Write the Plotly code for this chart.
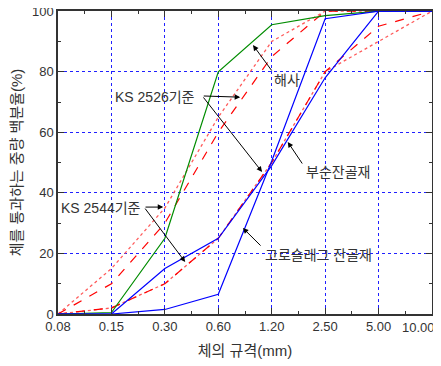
import plotly.graph_objects as go

sieves = ["0.08", "0.15", "0.30", "0.60", "1.20", "2.50", "5.00", "10.00"]
sea_sand = [0, 0.5, 25, 80, 95.5, 98.5, 100, 100]
crushed = [0, 0, 15, 25, 49, 78, 100, 100]
slag = [0, 0, 1.5, 6.5, 50.5, 97.5, 100, 100]
ks2526_upper = [0, 10, 30, 60, 85, 100, 100, 100]
ks2526_lower = [0, 2, 10, 25, 50, 80, 95, 100]
ks2544_upper = [0, 15, 35, 65, 90, 100, 100, 100]
ks2544_lower = [0, 2, 10, 25, 50, 80, 90, 100]
y_ticks = [0, 20, 40, 60, 80, 100]

xpos = list(range(len(sieves)))

fig = go.Figure()

def add(vals, color, dash, width=1.2):
    fig.add_trace(go.Scatter(x=xpos, y=vals, mode="lines",
                             line=dict(color=color, dash=dash, width=width),
                             showlegend=False, hoverinfo="skip",
                             cliponaxis=False))

add(ks2544_upper, "#ff5a5a", "dot", 1.3)
add(ks2544_lower, "#ff5a5a", "dot", 1.3)
add(ks2526_upper, "#ff0000", "dash", 1.2)
add(ks2526_lower, "#ff0000", "dash", 1.2)
add(sea_sand, "#008c00", "solid", 1.2)
add(crushed, "#0000ff", "solid", 1.2)
add(slag, "#0000ff", "solid", 1.2)

font_main = "Liberation Sans, Noto Sans CJK KR, sans-serif"
txtfont = dict(family=font_main, size=14, color="#333333")
tickfont = dict(family=font_main, size=13, color="#333333")

texts = [
    ("해사", 4.29, 77.2),
    ("KS 2526기준", 1.82, 71.6),
    ("부순잔골재", 5.24, 46.9),
    ("KS 2544기준", 0.80, 35.0),
    ("고로슬래그 잔골재", 4.88, 19.5),
]
for t, x, y in texts:
    fig.add_annotation(x=x, y=y, text=t, showarrow=False, font=txtfont,
                       xref="x", yref="y")

arrows = [
    ((4.02, 79.9), (3.65, 88.8)),
    ((2.70, 72.0), (3.41, 71.6)),
    ((2.70, 72.0), (3.82, 46.9)),
    ((4.59, 49.2), (4.30, 56.8)),
    ((1.61, 35.3), (1.97, 35.3)),
    ((1.61, 35.3), (2.38, 17.2)),
    ((3.82, 22.1), (3.46, 28.4)),
]
for (tx, ty), (hx, hy) in arrows:
    fig.add_annotation(x=hx, y=hy, ax=tx, ay=ty, xref="x", yref="y",
                       axref="x", ayref="y", text="", showarrow=True,
                       arrowhead=2, arrowsize=1.1, arrowwidth=1,
                       arrowcolor="#000000")

# last tick label drawn right-aligned so it stays inside the window
ticktext = sieves[:-1] + [""]
fig.add_annotation(x=xpos[-1], y=0, xref="x", yref="y", text=sieves[-1],
                   showarrow=False, xanchor="right", yanchor="top",
                   xshift=5, yshift=-4, font=tickfont)

axis_common = dict(showline=True, linecolor="#333333", linewidth=1.5,
                   mirror="ticks", ticks="inside", ticklen=6,
                   tickcolor="#333333", tickwidth=1.2,
                   showgrid=True, gridcolor="#2020ff", griddash="dot",
                   gridwidth=1, zeroline=False, automargin=False,
                   ticklabeloverflow="allow",
                   tickfont=tickfont)

fig.update_xaxes(range=[-0.0005, len(sieves) - 1 + 0.0005], tickmode="array",
                 tickvals=xpos, ticktext=ticktext,
                 minor=dict(ticks="inside", ticklen=3, tickcolor="#333333",
                            dtick=0.5, tick0=0, showgrid=False),
                 title=dict(text="체의 규격(mm)",
                            font=dict(family=font_main, size=15, color="#333333"),
                            standoff=12),
                 **axis_common)
fig.update_yaxes(range=[0, 100.05], tickmode="array", tickvals=y_ticks,
                 minor=dict(ticks="inside", ticklen=3, tickcolor="#333333",
                            dtick=10, tick0=0, showgrid=False),
                 title=dict(text="체를 통과하는 중량 백분율(%)",
                            font=dict(family=font_main, size=15, color="#333333"),
                            standoff=6),
                 **axis_common)

fig.update_layout(width=433, height=358,
                  margin=dict(l=50, r=9, t=3, b=52),
                  plot_bgcolor="white", paper_bgcolor="white",
                  showlegend=False)

fig.write_html("out.html")
